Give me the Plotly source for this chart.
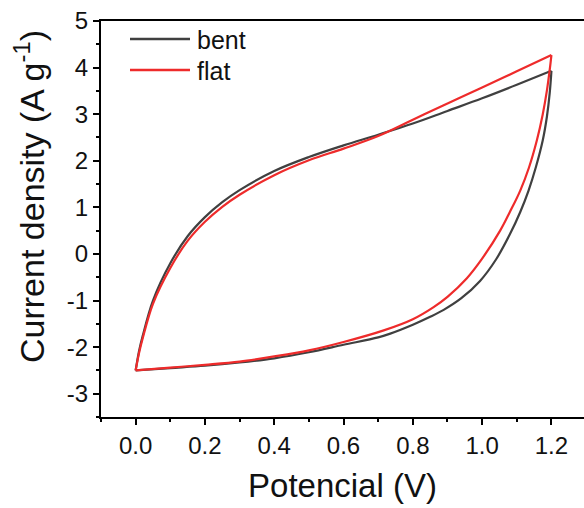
import plotly.graph_objects as go

# Cyclic voltammetry loops: anodic sweep 0 -> 1.2 V, then cathodic sweep back to 0 V
bent_v_up = [0.0, 0.01, 0.02, 0.05, 0.1, 0.15, 0.2, 0.25, 0.3, 0.4, 0.5, 0.6, 0.7, 0.8, 0.9, 1.0, 1.1, 1.2]
bent_i_up = [-2.50, -2.08, -1.77, -1.00, -0.20, 0.38, 0.79, 1.11, 1.37, 1.78, 2.08, 2.33, 2.56, 2.80, 3.07, 3.34, 3.63, 3.93]
bent_v_down = [1.2, 1.195, 1.187, 1.175, 1.155, 1.134, 1.11, 1.08, 1.04, 0.994, 0.94, 0.889, 0.85, 0.8, 0.735, 0.7, 0.6, 0.5, 0.4, 0.3, 0.2, 0.1, 0.0]
bent_i_down = [3.93, 3.45, 2.95, 2.44, 1.86, 1.36, 0.90, 0.42, -0.12, -0.58, -0.95, -1.20, -1.35, -1.52, -1.71, -1.79, -1.95, -2.11, -2.24, -2.33, -2.40, -2.45, -2.50]

flat_v_up = [0.0, 0.01, 0.02, 0.05, 0.1, 0.15, 0.2, 0.25, 0.3, 0.4, 0.5, 0.6, 0.7, 0.8, 0.9, 1.0, 1.1, 1.2]
flat_i_up = [-2.50, -2.12, -1.82, -1.07, -0.30, 0.28, 0.69, 1.01, 1.27, 1.69, 2.01, 2.26, 2.53, 2.88, 3.23, 3.57, 3.92, 4.27]
flat_v_down = [1.2, 1.195, 1.187, 1.175, 1.158, 1.135, 1.11, 1.08, 1.052, 1.0, 0.956, 0.9, 0.86, 0.8, 0.716, 0.6, 0.5, 0.4, 0.3, 0.2, 0.1, 0.0]
flat_i_down = [4.27, 3.95, 3.51, 3.00, 2.44, 1.85, 1.36, 0.90, 0.50, -0.10, -0.52, -0.92, -1.14, -1.40, -1.64, -1.89, -2.07, -2.20, -2.31, -2.38, -2.44, -2.50]

series_names = ["bent", "flat"]
series_colors = ["#404040", "#ee2b2b"]

x_tick_vals = [0.0, 0.2, 0.4, 0.6, 0.8, 1.0, 1.2]
x_tick_text = ["0.0", "0.2", "0.4", "0.6", "0.8", "1.0", "1.2"]
y_tick_vals = [-3, -2, -1, 0, 1, 2, 3, 4, 5]
y_tick_text = ["-3", "-2", "-1", "0", "1", "2", "3", "4", "5"]

FONT = "Arial, 'Liberation Sans', sans-serif"

sweeps = [
    [(bent_v_up, bent_i_up), (bent_v_down, bent_i_down)],
    [(flat_v_up, flat_i_up), (flat_v_down, flat_i_down)],
]

fig = go.Figure()
# Each sweep direction is its own smooth segment so the turning points stay sharp
for branches, name, color in zip(sweeps, series_names, series_colors):
    for v, i in branches:
        fig.add_trace(go.Scatter(
            x=v, y=i, mode="lines", name=name, legendgroup=name,
            line=dict(color=color, width=2.2, shape="spline", smoothing=1.0),
            showlegend=False,
        ))

# Legend drawn as short line samples with labels in the upper-left corner
W_PLOT, H_PLOT, L, T = 483, 396, 101, 21
def px_x(px):
    return (px - L) / W_PLOT
def px_y(py):
    return (T + H_PLOT - py) / H_PLOT

legend_rows = [39, 70]
for row_y, name, color in zip(legend_rows, series_names, series_colors):
    fig.add_shape(type="line", xref="paper", yref="paper",
                  x0=px_x(130), x1=px_x(190), y0=px_y(row_y), y1=px_y(row_y),
                  line=dict(color=color, width=2.5))
    fig.add_annotation(xref="paper", yref="paper", x=px_x(195), y=px_y(row_y + 1),
                       text=name, showarrow=False, xanchor="left", yanchor="middle",
                       font=dict(family=FONT, size=25, color="#111111"))

# Vertical axis title
fig.add_annotation(xref="paper", yref="paper", x=px_x(29), y=px_y(197),
                   text="Current density (A g<sup>-1</sup>)", textangle=-90,
                   showarrow=False, xanchor="center", yanchor="middle",
                   font=dict(family=FONT, size=34, color="#111111"))

axis_common = dict(
    showline=True, linecolor="black", linewidth=2,
    ticks="outside", ticklen=6, tickwidth=2, tickcolor="black",
    showgrid=False, zeroline=False,
    tickfont=dict(family=FONT, size=24, color="#111111"),
)

fig.update_xaxes(
    range=[-0.1, 1.294], tickvals=x_tick_vals, ticktext=x_tick_text,
    mirror=True,
    minor=dict(ticks="outside", ticklen=3, tickwidth=2, tickcolor="black", dtick=0.1, tick0=0),
    title=dict(text="Potencial (V)", font=dict(family=FONT, size=33, color="#111111"), standoff=16),
    **axis_common,
)
fig.update_yaxes(
    range=[-3.5, 5], tickvals=y_tick_vals, ticktext=y_tick_text,
    minor=dict(ticks="outside", ticklen=3, tickwidth=2, tickcolor="black", dtick=0.5, tick0=0),
    **axis_common,
)

fig.update_layout(
    width=584, height=508,
    margin=dict(l=L, r=0, t=T, b=508 - T - H_PLOT),
    plot_bgcolor="white", paper_bgcolor="white",
)

fig.write_html("out.html")
